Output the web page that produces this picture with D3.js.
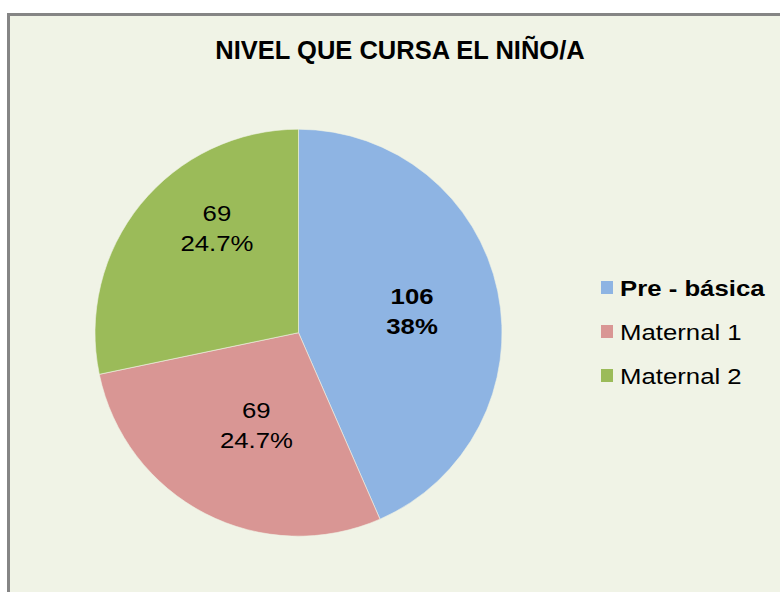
<!DOCTYPE html>
<html>
<head>
<meta charset="utf-8">
<script src="https://cdn.jsdelivr.net/npm/d3@7"></script>
<style>
	body { margin: 0; background: #ffffff; }
	svg { display: block; font-family: "Liberation Sans", Arial, sans-serif; }
</style>
</head>
<body>
<svg id="chart" width="780" height="592"></svg>
<script>
	// datos
	var title = 'NIVEL QUE CURSA EL NIÑO/A';
	var categories = ['Pre - básica', 'Maternal 1', 'Maternal 2'];
	var values = [106, 69, 69];
	var percentLabels = ['38%', '24.7%', '24.7%'];
	var colors = ['#8eb4e3', '#d99694', '#9bbb59'];

	var width = 780, height = 592;
	var svg = d3.select('#chart');

	// marco
	svg.append('rect')
		.attr('x', 8.5)
		.attr('y', 14.5)
		.attr('width', width + 10)
		.attr('height', height + 10)
		.attr('fill', '#f0f3e6')
		.attr('stroke', '#858585')
		.attr('stroke-width', 3);

	svg.append('text')
		.attr('x', 400)
		.attr('y', 59)
		.attr('text-anchor', 'middle')
		.attr('font-size', 25.5)
		.attr('font-weight', 'bold')
		.attr('fill', '#000')
		.text(title);

	var cx = 298.5, cy = 332.7, r = 203.5;
	var stretch = 1.12; // el texto original esta algo ensanchado

	var pie = d3.pie().sort(null).value(function (d) { return d; });
	var arcs = pie(values);
	var arc = d3.arc().innerRadius(0).outerRadius(r);
	var labelArc = d3.arc().innerRadius(r * 0.58).outerRadius(r * 0.58);
	// ajuste tipo "mejor ajuste" de excel
	var nudge = [[-2, 2], [12, -13], [10, -30]];

	var g = svg.append('g').attr('transform', 'translate(' + cx + ',' + cy + ')');

	g.selectAll('path')
		.data(arcs)
		.enter()
		.append('path')
		.attr('d', arc)
		.attr('fill', function (d, i) { return colors[i]; })
		.attr('stroke', '#f0f3e6')
		.attr('stroke-width', 0.6);

	var labels = g.selectAll('text.lbl')
		.data(arcs)
		.enter()
		.append('text')
		.attr('class', 'lbl')
		.attr('text-anchor', 'middle')
		.attr('font-size', 23)
		.attr('font-weight', function (d, i) { return i == 0 ? 'bold' : 'normal'; })
		.attr('transform', function (d, i) {
			var c = labelArc.centroid(d);
			return 'translate(' + (c[0] + nudge[i][0]) + ',' + (c[1] + nudge[i][1]) + ') scale(' + stretch + ',1)';
		});
	labels.append('tspan')
		.attr('x', 0)
		.attr('y', -7)
		.text(function (d) { return d.data; });
	labels.append('tspan')
		.attr('x', 0)
		.attr('y', 23)
		.text(function (d, i) { return percentLabels[i]; });

	// leyenda
	var legend = svg.append('g').attr('transform', 'translate(601,281)');
	var items = legend.selectAll('g')
		.data(categories)
		.enter()
		.append('g')
		.attr('transform', function (d, i) { return 'translate(0,' + (i * 44) + ')'; });
	items.append('rect')
		.attr('width', 12)
		.attr('height', 13)
		.attr('fill', function (d, i) { return colors[i]; });
	items.append('text')
		.attr('transform', 'translate(19,15) scale(' + stretch + ',1)')
		.attr('font-size', 23)
		.attr('font-weight', function (d, i) { return i == 0 ? 'bold' : 'normal'; })
		.text(function (d) { return d; });
</script>
</body>
</html>
